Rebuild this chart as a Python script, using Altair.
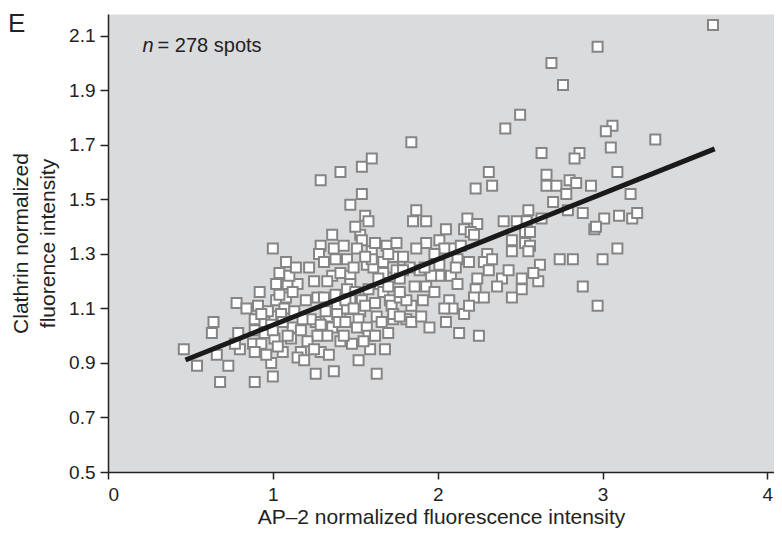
import altair as alt
import pandas as pd

# AP-2 (x) vs clathrin (y) normalized intensities, grouped by x band
band_1 = [[0.46,0.95],[0.54,0.89],[0.64,1.05],[0.63,1.01],[0.68,0.83],[0.66,0.93],[0.73,0.89],
          [0.79,1.01],[0.78,1.12],[0.84,1.10],[0.80,0.95],[0.77,0.97]]
band_2 = [[0.89,0.83],[1.00,0.85],[0.99,0.90],[0.92,1.16],[1.00,1.32],[0.88,0.97],[0.89,1.06],[0.91,1.11],
          [0.89,1.02],[0.95,1.05],[1.01,1.07],[1.02,1.13],[1.08,1.14],[1.07,1.10],[1.02,1.19],[1.09,1.19],
          [1.15,1.19],[1.04,1.23],[1.10,1.22],[0.95,1.01],[1.01,0.99],[1.11,0.99],[1.12,1.03],[1.17,1.02],
          [1.06,0.94],[1.17,0.94],[1.15,0.92],[0.99,1.04],[1.00,1.02],[1.05,1.08],[0.93,0.97],[1.26,0.86],
          [1.26,1.05],[1.29,0.94],[1.34,0.93],[1.22,1.25],[1.29,1.33],[1.28,1.30],[1.36,1.22],[1.37,1.32],
          [1.27,1.14],[1.31,1.14],[1.34,1.07],[1.36,1.03],[1.33,1.00],[1.37,0.87],[1.19,0.91],[1.29,1.57],
          [1.36,1.37],[1.38,1.28],[1.38,1.15],[1.27,1.00],[1.09,1.00],[0.89,0.94],[1.39,1.11],[1.39,1.08],
          [1.40,1.05],
          [0.97,1.09],[1.04,1.15],[1.12,1.16],[1.06,1.05],[1.13,1.09],[0.96,0.93],[1.03,0.96],[1.08,1.27],
          [1.14,1.25],[1.20,1.13],[1.23,1.06],[1.21,0.98],[1.25,0.95],[1.31,1.27],[1.33,1.20],[1.25,1.20],
          [1.18,1.06],[0.93,1.08],[1.32,1.09],[1.29,1.04]]
band_3 = [[1.41,1.60],[1.54,1.62],[1.60,1.65],[1.54,1.52],[1.47,1.48],[1.56,1.44],[1.58,1.42],[1.53,1.37],
          [1.54,1.35],[1.51,1.32],[1.60,1.31],[1.57,1.26],[1.61,1.25],[1.69,1.33],[1.75,1.34],[1.73,1.29],
          [1.67,1.27],[1.73,1.25],[1.67,1.23],[1.65,1.19],[1.45,1.28],[1.41,1.23],[1.47,1.22],[1.47,1.19],
          [1.45,1.17],[1.50,1.16],[1.47,1.13],[1.54,1.13],[1.67,1.16],[1.71,1.13],[1.72,1.11],[1.45,1.10],
          [1.47,1.06],[1.53,1.09],[1.52,1.06],[1.51,1.03],[1.57,1.03],[1.58,1.00],[1.63,1.07],[1.70,1.01],
          [1.73,1.06],[1.73,1.08],[1.59,0.95],[1.48,0.97],[1.41,0.98],[1.63,0.86],[1.60,1.28],[1.75,1.24],
          [1.44,1.13],[1.49,1.10],[1.56,1.11],[1.62,1.12],[1.64,1.21],[1.70,1.18],[1.43,1.00],[1.55,0.98],
          [1.62,1.00],[1.66,1.05],[1.49,1.25],[1.56,1.29],[1.70,1.30],[1.43,1.33],[1.50,1.40],[1.62,1.34],
          [1.44,1.05],[1.68,0.95],[1.52,0.91],[1.58,1.17]]
band_4 = [[1.84,1.71],[1.87,1.46],[1.85,1.42],[1.93,1.42],[2.05,1.39],[2.18,1.43],[2.24,1.41],[2.16,1.39],
          [2.20,1.38],[2.40,1.42],[2.01,1.35],[1.93,1.34],[1.87,1.32],[2.09,1.32],[2.12,1.28],[2.30,1.30],
          [2.28,1.27],[2.31,1.24],[2.39,1.21],[2.24,1.21],[2.23,1.17],[2.22,1.14],[2.28,1.14],[2.08,1.22],
          [2.01,1.22],[1.96,1.22],[1.89,1.24],[1.93,1.18],[2.07,1.13],[2.09,1.10],[2.16,1.08],[2.04,1.10],
          [1.91,1.13],[1.84,1.11],[1.81,1.06],[1.84,1.05],[1.95,1.03],[2.13,1.01],[2.25,1.00],[1.83,1.25],
          [1.92,1.25],[2.01,1.26],[1.79,1.24],[2.11,1.25],[2.04,1.32],[1.77,1.14],[1.81,1.13],[1.77,1.07],
          [1.77,1.21],[1.77,1.16],[2.50,1.81],[2.41,1.76],[2.63,1.67],[2.31,1.60],[2.23,1.54],[2.33,1.55],
          [2.48,1.42],[2.55,1.46],[2.54,1.42],[2.63,1.43],[2.53,1.38],[2.45,1.35],[2.45,1.31],[2.53,1.34],
          [2.56,1.33],[2.55,1.31],[2.62,1.26],[2.61,1.20],[2.43,1.24],[2.51,1.21],[2.51,1.17],[2.45,1.14],
          [1.79,1.29],[1.86,1.18],[1.98,1.16],[2.12,1.19],[2.19,1.27],[2.33,1.28],[1.98,1.30],[2.14,1.33],
          [2.36,1.18],[2.05,1.05],[1.90,1.07],[2.19,1.11],[2.58,1.23],[2.56,1.38],[2.22,1.37]]
band_5 = [[3.67,2.14],[2.97,2.06],[2.69,2.00],[2.76,1.92],[3.06,1.77],[3.02,1.75],[3.32,1.72],[3.05,1.69],
          [2.86,1.67],[2.83,1.65],[3.09,1.60],[2.66,1.59],[2.66,1.55],[2.72,1.55],[2.80,1.57],[2.84,1.56],
          [2.78,1.52],[2.93,1.55],[3.17,1.52],[2.70,1.49],[2.79,1.46],[2.88,1.45],[3.01,1.43],[3.10,1.44],
          [3.18,1.43],[3.21,1.45],[2.95,1.39],[2.96,1.40],[3.09,1.32],[2.74,1.28],[2.82,1.28],[3.00,1.28],
          [2.88,1.18],[2.97,1.11]]

fit_ap2 = [0.47, 3.68]
fit_clathrin = [0.911, 1.685]

x_ticks = [0, 1, 2, 3, 4]
y_ticks = [0.5, 0.7, 0.9, 1.1, 1.3, 1.5, 1.7, 1.9, 2.1]
x_domain = [0, 4.04]
y_domain = [0.5, 2.18]

spots = band_1 + band_2 + band_3 + band_4 + band_5
df = pd.DataFrame(spots, columns=["ap2", "clathrin"])
fit_df = pd.DataFrame({"ap2": fit_ap2, "clathrin": fit_clathrin})
note_df = pd.DataFrame({"ap2": [0.21], "clathrin": [2.041]})

FONT = "Liberation Sans"
INK = "#222222"

x_enc = alt.X("ap2:Q", scale=alt.Scale(domain=x_domain, nice=False, zero=False),
              axis=alt.Axis(values=x_ticks, format="d", grid=False, tickSize=7, tickWidth=1.5,
                            tickColor=INK, domainColor=INK, domainWidth=1.5,
                            labelFontSize=19, labelFont=FONT, labelColor=INK, labelPadding=6,
                            title="AP\u20132 normalized fluorescence intensity",
                            titleFont=FONT, titleFontSize=21, titleFontWeight="normal",
                            titleColor=INK, titleY=51, titleBaseline="alphabetic"))
y_enc = alt.Y("clathrin:Q", scale=alt.Scale(domain=y_domain, nice=False, zero=False),
              axis=alt.Axis(values=y_ticks, format=".1f", grid=False, tickSize=8, tickWidth=1.5,
                            tickColor=INK, domainColor=INK, domainWidth=1.5,
                            labelFontSize=19, labelFont=FONT, labelColor=INK, labelPadding=5,
                            title=["Clathrin normalized", "fluorence intensity"],
                            titleFont=FONT, titleFontSize=21, titleFontWeight="normal",
                            titleColor=INK, titleX=-77, titleY=229, titleAngle=270,
                            titleAlign="center", titleBaseline="bottom", titleLineHeight=27))

points = alt.Chart(df).mark_point(shape="square", filled=False, fill="white", fillOpacity=1,
                                  stroke="#858585", strokeWidth=2, size=100, opacity=1).encode(
    x=x_enc, y=y_enc)

fit = alt.Chart(fit_df).mark_line(color="#1a1a1a", strokeWidth=5, strokeCap="butt").encode(
    x=x_enc, y=y_enc)

note_n = alt.Chart(note_df).mark_text(text="n", font=FONT, fontSize=20, fontStyle="italic",
                                      align="left", baseline="alphabetic", color=INK).encode(
    x=x_enc, y=y_enc)
note_rest = alt.Chart(note_df).mark_text(text="= 278 spots", font=FONT, fontSize=20, dx=15,
                                         align="left", baseline="alphabetic", color=INK).encode(
    x=x_enc, y=y_enc)

panel = alt.Chart(note_df).mark_text(text="E", font=FONT, fontSize=26, align="left",
                                     baseline="alphabetic", color=INK).encode(
    x=alt.value(-100), y=alt.value(18))

chart = alt.layer(points, fit, note_n, note_rest, panel).properties(
    width=666, height=458,
    autosize=alt.AutoSizeParams(type="none"),
    padding={"left": 100, "top": 6, "right": 0, "bottom": 58},
    background="white",
).configure_view(fill="#dadbdd", stroke="transparent")

chart.save("out.html", embed_options={"renderer": "svg", "actions": False})
